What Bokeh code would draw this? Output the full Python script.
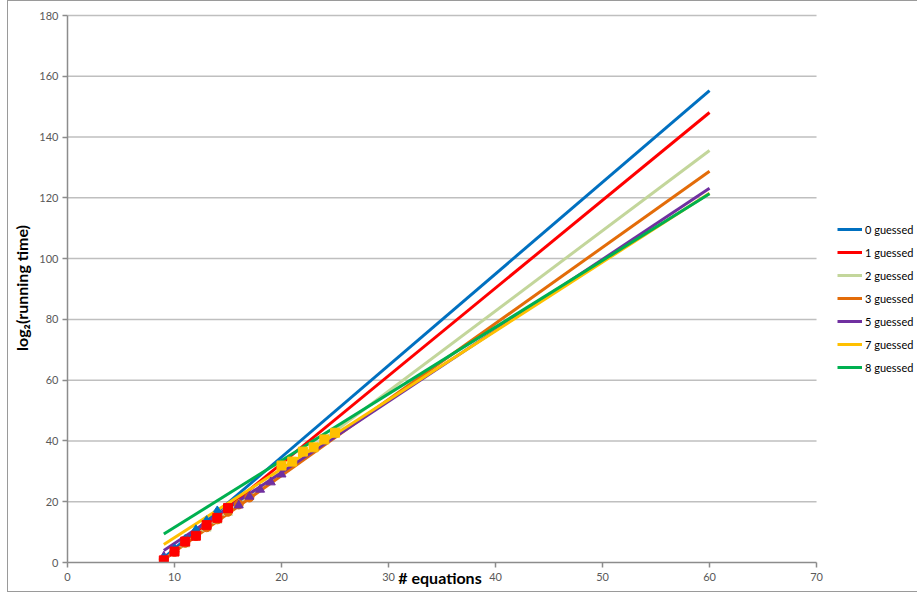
from bokeh.plotting import figure
from bokeh.models import Legend, LegendItem, Range1d, FixedTicker
from bokeh.embed import file_html
from bokeh.resources import INLINE

# Fitted trend lines: log2(running time) = slope * equations + intercept
series_names = ["0 guessed", "1 guessed", "2 guessed", "3 guessed", "5 guessed", "7 guessed", "8 guessed"]
series_colors = ["#0070C0", "#FF0000", "#C3D69B", "#E36C09", "#7030A0", "#FFC000", "#00B050"]
trend_slope = [3.015, 2.888, 2.640, 2.504, 2.337, 2.267, 2.196]
trend_intercept = [-25.6, -25.2, -22.8, -21.5, -17.1, -14.5, -10.4]
trend_x = [9, 60]

# Measured points
guess0_x = [9, 10, 11, 12, 13, 14]
guess0_y = [1.2, 4.3, 7.4, 10.6, 13.6, 16.8]
guess1_x = [9, 10, 11, 12, 13, 14, 15]
guess1_y = [0.7, 3.6, 6.9, 8.8, 12.3, 14.7, 17.9]
guess2_x = [9, 10, 11, 12, 13, 14, 15, 16]
guess2_y = [1.0, 3.4, 6.0, 8.4, 11.2, 13.8, 16.4, 19.0]
guess3_x = [9, 10, 11, 12, 13, 14, 15, 16, 17]
guess3_y = [1.1, 3.5, 6.5, 8.7, 11.6, 14.2, 16.7, 19.1, 21.4]
guess5_x = [9, 10, 11, 12, 13, 14, 15, 16, 17, 18, 19, 20]
guess5_y = [2.0, 4.5, 7.0, 9.5, 12.3, 14.9, 17.3, 18.8, 21.7, 24.0, 26.4, 29.0]
guess7_x = [20, 21, 22, 23, 24, 25]
guess7_y = [31.9, 33.2, 36.5, 37.9, 40.5, 42.7]

x_ticks = [0, 10, 20, 30, 40, 50, 60, 70]
y_ticks = [0, 20, 40, 60, 80, 100, 120, 140, 160, 180]

FONT = "Lato"
TICK_COLOR = "#595959"
X_MAX, Y_MAX = 70, 180

# The plotting frame runs on past x = 70 to leave room for the legend;
# the axis and gridlines stop at 70.
p = figure(
    width=910, height=592,
    output_backend="svg", toolbar_location=None,
    x_range=Range1d(0, 79.53), y_range=Range1d(0, 180.66),
    min_border_left=59, min_border_right=0, min_border_top=12, min_border_bottom=31,
)
p.styles = {
    "margin-left": "7px",
    "border-left": "1px solid #9a9a9a",
    "border-top": "1px solid #9a9a9a",
    "border-bottom": "1px solid #9a9a9a",
}
p.outline_line_color = None
p.background_fill_color = "white"
p.border_fill_color = "white"
p.xgrid.grid_line_color = None
p.ygrid.grid_line_color = None

# Horizontal gridlines
grid_y = [t for t in y_ticks if t > 0]
p.segment(x0=[0] * len(grid_y), y0=grid_y, x1=[X_MAX] * len(grid_y), y1=grid_y,
          line_color="#BFBFBF", line_width=1.5)

p.xaxis.ticker = FixedTicker(ticks=x_ticks)
p.yaxis.ticker = FixedTicker(ticks=y_ticks)
p.xaxis.bounds = (0, X_MAX)
p.yaxis.bounds = (0, Y_MAX)
for ax in (p.xaxis, p.yaxis):
    ax.axis_line_color = "#8C8C8C"
    ax.axis_line_width = 1.5
    ax.major_tick_line_color = "#8C8C8C"
    ax.major_tick_line_width = 1.5
    ax.major_tick_out = 5
    ax.major_tick_in = 0
    ax.minor_tick_line_color = None
    ax.major_label_text_font = FONT
    ax.major_label_text_font_size = "11px"
    ax.major_label_text_color = TICK_COLOR
p.xaxis.major_label_standoff = 5
p.yaxis.major_label_standoff = 4

p.yaxis.axis_label = "log\u2082(running time)"
p.yaxis.axis_label_text_font = FONT
p.yaxis.axis_label_text_font_style = "bold"
p.yaxis.axis_label_text_font_size = "16px"
p.yaxis.axis_label_text_color = "#000000"
p.yaxis.axis_label_standoff = 5

# Trailing wide spaces pull the centred title back over the 0-70 axis span
p.xaxis.axis_label = "# equations" + "\u2003" * 8 + "\u2002" + "\u2009"
p.xaxis.axis_label_text_font = FONT
p.xaxis.axis_label_text_font_style = "bold"
p.xaxis.axis_label_text_font_size = "16px"
p.xaxis.axis_label_text_color = "#000000"
p.xaxis.axis_label_standoff = -16

# Trend lines
legend_items = []
for name, color, m, b in zip(series_names, series_colors, trend_slope, trend_intercept):
    ys = [m * x + b for x in trend_x]
    r = p.line(trend_x, ys, line_color=color, line_width=3)
    legend_items.append(LegendItem(label=name, renderers=[r]))

# Data markers
p.scatter(guess2_x, guess2_y, marker="triangle", size=9, color="#C3D69B")
p.scatter(guess3_x, guess3_y, marker="circle", size=9, color="#E36C09")
p.scatter(guess5_x, guess5_y, marker="triangle", size=9, color="#7030A0")
p.scatter(guess0_x, guess0_y, marker="diamond", size=11, color="#0070C0")
p.scatter(guess1_x, guess1_y, marker="square", size=9, color="#FF0000")
p.scatter(guess7_x, guess7_y, marker="square", size=9, color="#FFC000")

legend = Legend(
    items=legend_items,
    location=(770, 188),
    padding=0, margin=0, spacing=9,
    glyph_width=25, glyph_height=14, label_height=14, label_standoff=3,
    label_text_font=FONT, label_text_font_size="11px", label_text_color="#000000",
    background_fill_alpha=0, border_line_color=None,
)
p.add_layout(legend, "center")

open("out.html", "w").write(file_html(p, INLINE))
